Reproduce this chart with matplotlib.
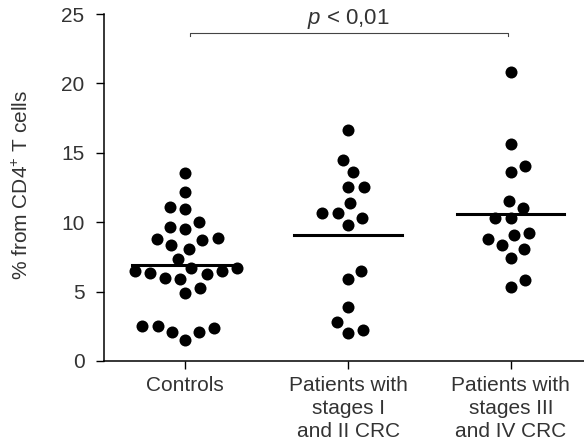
import numpy as np
import matplotlib
matplotlib.use("Agg")
import matplotlib.pyplot as plt

plt.rcParams['font.family'] = ['Liberation Sans', 'DejaVu Sans']
plt.rcParams['mathtext.fontset'] = 'custom'
plt.rcParams['mathtext.rm'] = 'Liberation Sans'
plt.rcParams['mathtext.it'] = 'Liberation Sans:italic'

# Werte (% von CD4+ T-Zellen)
gruppen = ["Controls", "Patients with\nstages I\nand II CRC", "Patients with\nstages III\nand IV CRC"]
kontrollen = [13.56, 12.19, 11.08, 10.97, 10.01, 9.48, 9.65, 8.81, 8.33, 8.10, 8.69, 8.84,
              7.33, 6.73, 6.01, 6.49, 6.25, 6.37, 6.49, 5.94, 6.73, 5.24, 4.89,
              2.49, 2.11, 1.53, 2.11, 2.35, 2.49]
stadium_1_2 = [16.62, 14.46, 13.60, 12.55, 12.55, 11.35, 10.63, 10.32, 9.79, 10.63,
               6.49, 5.89, 3.86, 2.78, 2.01, 2.25]
stadium_3_4 = [20.81, 15.64, 13.63, 14.03, 11.52, 11.04, 10.32, 10.32, 9.25, 8.81,
               9.05, 8.05, 8.36, 7.45, 5.34, 5.84]
alle_werte = [kontrollen, stadium_1_2, stadium_3_4]

textfarbe = "#333333"

fig = plt.figure(figsize=(5.84, 4.41), dpi=100)
ax = fig.add_axes([104 / 584, 80 / 441, 480 / 584, 347 / 441])
ax.set_xlim(-0.5, 2.45)
ax.set_ylim(0, 25)


def schwarm(x0, werte, abstand):
    # einfacher Beeswarm in Pixelkoordinaten
    pix = ax.transData.transform([(x0, w) for w in werte])
    reihenfolge = np.argsort(pix[:, 1])
    gesetzt = []
    xs = np.zeros(len(werte))
    for i in reihenfolge:
        y = pix[i, 1]
        kandidaten = [0.0]
        for (gx, gy) in gesetzt:
            dy = abs(gy - y)
            if dy < abstand:
                dx = np.sqrt(abstand ** 2 - dy ** 2)
                kandidaten += [gx + dx, gx - dx]
        kandidaten.sort(key=abs)
        for k in kandidaten:
            if all((k - gx) ** 2 + (y - gy) ** 2 >= abstand ** 2 - 1e-6 for (gx, gy) in gesetzt):
                break
        gesetzt.append((k, y))
        xs[i] = pix[i, 0] + k
    daten = ax.transData.inverted().transform(np.column_stack([xs, pix[:, 1]]))
    return daten[:, 0]


for i, werte in enumerate(alle_werte):
    x = schwarm(i, werte, 15.5)
    ax.scatter(x, werte, s=12 ** 2 * 0.52, color="black", zorder=3, linewidths=0)
    mittel = np.mean(werte)
    ax.plot([i - 0.33, i + 0.33], [mittel, mittel], color="black", lw=2.2, zorder=4)

# Signifikanzklammer
ax.plot([0.03, 0.03, 1.98, 1.98], [23.4, 23.6, 23.6, 23.4], color="#444444", lw=0.8, clip_on=False)
ax.text(1.0, 23.8, "$p$ < 0,01", ha="center", va="bottom", fontsize=16, color=textfarbe)

ax.spines['top'].set_visible(False)
ax.spines['right'].set_visible(False)
ax.spines['left'].set_linewidth(1.1)
ax.spines['bottom'].set_linewidth(1.1)
ax.set_xticks(range(3))
ax.set_xticklabels(gruppen, fontsize=15, color=textfarbe, linespacing=1.25)
ax.set_yticks([0, 5, 10, 15, 20, 25])
ax.tick_params(axis='y', length=6, width=1, pad=8, labelsize=15, labelcolor=textfarbe)
ax.tick_params(axis='x', length=6, width=1, pad=5, labelsize=15)

fig.text(22 / 584, 1 - 185 / 441, "% from CD4$^{+}$ T cells", rotation=90,
         ha="center", va="center", fontsize=15, color=textfarbe)

fig.savefig("out.png", dpi=100)
